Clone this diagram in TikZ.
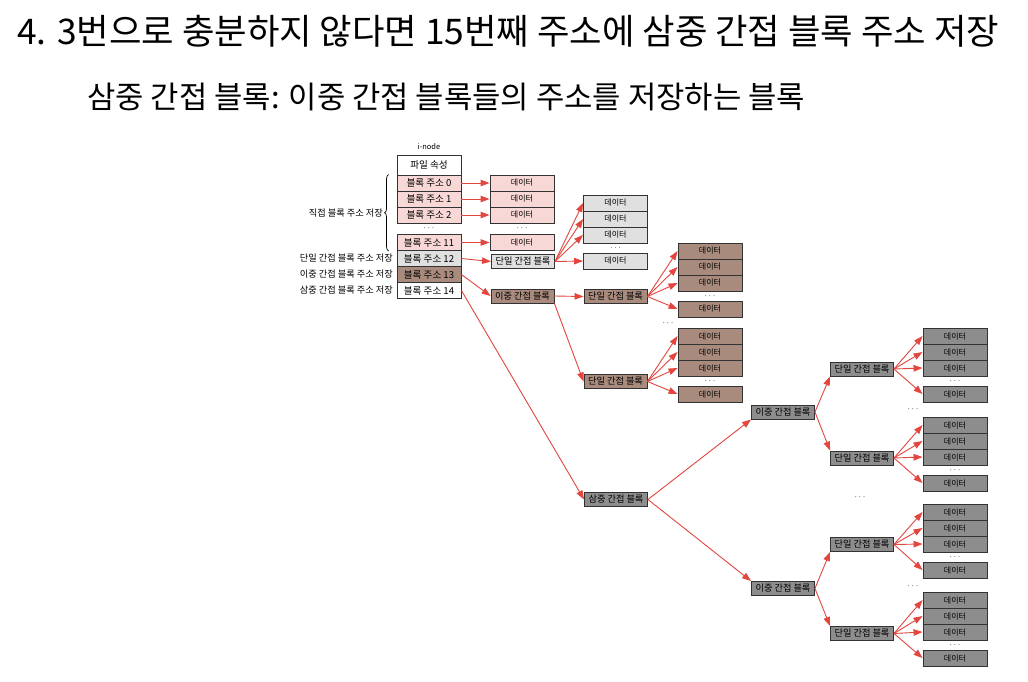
\documentclass[tikz,border=0pt]{standalone}
\usepackage{fontspec}
\newfontfamily\kr{Noto Sans CJK KR}
\usetikzlibrary{arrows.meta}
\usetikzlibrary{decorations.pathreplacing}

\definecolor{ptrred}{HTML}{E2463F}
\definecolor{pinkblk}{HTML}{F8D8D6}
\definecolor{grayblk}{HTML}{E0E0E0}
\definecolor{brownblk}{HTML}{A88B7D}
\definecolor{darkblk}{HTML}{8D8D8D}

\tikzset{
  blk/.style={draw=black!80,line width=0.9pt,inner sep=0pt,minimum width=64pt,minimum height=16pt,font=\kr\fontsize{9.6}{10}\selectfont},
  datblk/.style={blk,font=\kr\fontsize{8}{9}\selectfont},
  ptrblk/.style={blk,minimum width=63pt,minimum height=14pt,font=\kr\fontsize{9.2}{10}\selectfont},
  ptr/.style={draw=ptrred,line width=0.9pt,-{Triangle[length=9pt,width=6.5pt]}},
  lbl/.style={font=\kr\fontsize{9.2}{10}\selectfont,anchor=east,inner sep=0pt},
  dotsl/.style={font=\fontsize{9}{10}\selectfont,inner sep=0pt},
}

\begin{document}
\begin{tikzpicture}[x=1pt,y=-1pt]
\useasboundingbox[fill=white] (0,0) rectangle (1028,681);

\node[font=\kr\fontsize{35.3}{38}\selectfont,anchor=west,inner sep=0pt] (title) at (17,31) {4. 3번으로 충분하지 않다면 15번째 주소에 삼중 간접 블록 주소 저장};
\node[font=\kr\fontsize{30.8}{34}\selectfont,anchor=west,inner sep=0pt] (sub) at (87,97) {삼중 간접 블록: 이중 간접 블록들의 주소를 저장하는 블록};

% i-node
\node[font=\kr\fontsize{7.5}{8}\selectfont,inner sep=0pt] (inl) at (429,147) {i-node};
\node[blk,minimum height=20pt,fill=white] (attr) at (429,165) {파일 속성};
\foreach \n/\y in {0/183,1/199,2/215,11/242.5}
  \node[blk,fill=pinkblk] (a\n) at (429,\y) {블록 주소 \n};
\node[dotsl] (adots) at (429,228) {$\cdots$};
\node[blk,fill=grayblk] (a12) at (429,258.5) {블록 주소 12};
\node[blk,fill=brownblk] (a13) at (429,274.5) {블록 주소 13};
\node[blk,fill=white] (a14) at (429,290.5) {블록 주소 14};

\draw[line width=0.7pt,decorate,decoration={brace,amplitude=4pt}] ([xshift=-8pt]a11.south west) -- ([xshift=-8pt]a0.north west);
\node[lbl] (ldir) at (383,213) {직접 블록 주소 저장};
\node[lbl] (lsgl) at (393,258.5) {단일 간접 블록 주소 저장};
\node[lbl] (ldbl) at (393,274.5) {이중 간접 블록 주소 저장};
\node[lbl] (ltri) at (393,290.5) {삼중 간접 블록 주소 저장};

% direct
\foreach \n/\y in {0/183,1/199,2/215,11/242.5} {
  \node[datblk,fill=pinkblk] (d\n) at (522,\y) {데이터};
  \draw[ptr] (a\n.east) -- (d\n.west);
}
\node[dotsl] (ddots) at (522,228) {$\cdots$};

% indirect blocks
\node[ptrblk,fill=grayblk] (sgl) at (523,261.5) {단일 간접 블록};
\node[ptrblk,fill=brownblk] (dbl) at (522.5,296) {이중 간접 블록};
\node[ptrblk,fill=brownblk] (sglb1) at (615.5,296.5) {단일 간접 블록};
\node[ptrblk,fill=brownblk] (sglb2) at (615.5,381.5) {단일 간접 블록};
\node[ptrblk,fill=darkblk] (tri) at (616,499.5) {삼중 간접 블록};
\node[ptrblk,fill=darkblk] (dbl1) at (783,412) {이중 간접 블록};
\node[ptrblk,fill=darkblk] (dbl2) at (783,588.5) {이중 간접 블록};
\node[ptrblk,fill=darkblk] (sglt1) at (862,369) {단일 간접 블록};
\node[ptrblk,fill=darkblk] (sglt2) at (862,458) {단일 간접 블록};
\node[ptrblk,fill=darkblk] (sglt3) at (862,544.5) {단일 간접 블록};
\node[ptrblk,fill=darkblk] (sglt4) at (862,633.5) {단일 간접 블록};

\draw[ptr] (a12.east) -- (sgl.west);
\draw[ptr] (a13.east) -- (dbl.west);
\draw[ptr] (a14.east) -- (tri.west);
\draw[ptr] (dbl.east) -- (sglb1.west);
\draw[ptr] (dbl.south east) -- (sglb2.west);
\draw[ptr] (tri.east) -- (dbl1.south west);
\draw[ptr] (tri.east) -- (dbl2.north west);
\draw[ptr] (dbl1.east) -- (sglt1.south west);
\draw[ptr] (dbl1.east) -- (sglt2.north west);
\draw[ptr] (dbl2.east) -- (sglt3.south west);
\draw[ptr] (dbl2.east) -- (sglt4.north west);

% data behind the single indirect blocks
\foreach \src/\nm/\x/\y/\clr in {sgl/g/615.5/203/grayblk,sglb1/ba/710/251/brownblk,sglb2/bb/710/336/brownblk,
    sglt1/ta/955/336/darkblk,sglt2/tb/955/425/darkblk,sglt3/tc/955/512/darkblk,sglt4/td/955/600/darkblk} {
  \foreach \k/\dy in {1/0,2/16,3/32,4/58} {
    \node[datblk,fill=\clr] (\nm-\k) at (\x,\y+\dy) {데이터};
    \draw[ptr] (\src.east) -- (\nm-\k.west);
  }
  \node[dotsl] (\nm-dots) at (\x,\y+45) {$\cdots$};
}
\node[dotsl] (bdots) at (668,323) {$\cdots$};
\node[dotsl] (tdots1) at (913,409) {$\cdots$};
\node[dotsl] (tdots2) at (860,497) {$\cdots$};
\node[dotsl] (tdots3) at (913,586) {$\cdots$};

\end{tikzpicture}
\end{document}
